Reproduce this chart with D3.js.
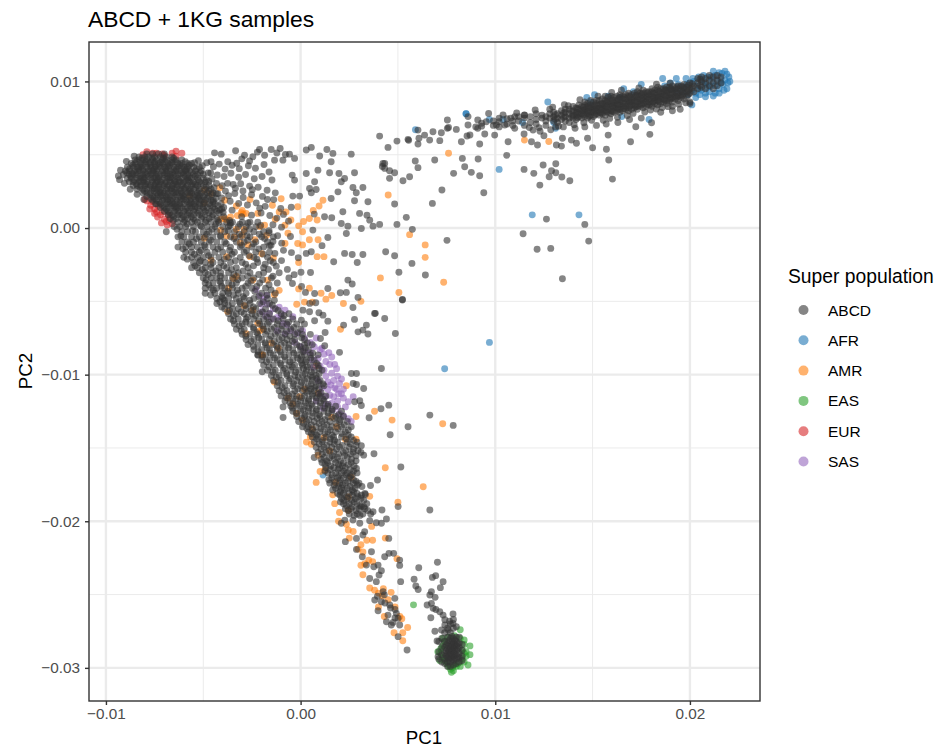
<!DOCTYPE html>
<html><head><meta charset="utf-8">
<script src="https://d3js.org/d3.v7.min.js"></script>
<style>html,body{margin:0;padding:0;background:#fff}text{font-family:"Liberation Sans",Arial,sans-serif}</style>
</head><body><svg id="c" width="935" height="749"></svg>
<script>
// All PC values below are in thousandths (PC value x 1000).
const unit = 0.001;
const categories = ["ABCD","AFR","AMR","EAS","EUR","SAS"];
const colours = ["#333333","#1f77b4","#ff7f0e","#2ca02c","#d62728","#9467bd"];
const xTicks = [-0.01,0,0.01,0.02];
const yTicks = [0.01,0,-0.01,-0.02,-0.03];
const xMinor = [-0.005,0.005,0.015];
const yMinor = [0.005,-0.005,-0.015,-0.025];

const afrPairs = [[18.6,10.2],[19.3,10.2],[19.8,10.2],[20.7,10.4],[21.2,10.7],[21.8,10.7],[22,10.3],[21.9,9.5],[21.2,9],[20.5,9.1],[20.1,8.4],[16.6,9.5],[17.5,9.8],[15.1,9.1],[12.7,8.6],[8.5,7.8],[8.5,7.8],[5.9,6.7],[9.7,7.4],[10.4,7.4],[11.4,7.2],[13,7.2],[13.1,6.8],[17.9,7.4],[16.5,7.6],[14.7,8.9],[10.2,4],[11.9,0.9],[14.3,0.9],[9.7,-7.8],[7.4,-9.6],[1.15,-16.85],
[19,9.9],[19.4,9.8],[19.7,9.6],[20,9.9],[20.2,10],[20.4,9.7],[20.6,10.1],[20.8,9.8],[20.9,10.3],[21.1,10.3],[21.3,10.4],[21.5,10.6],[21.6,10.2],[21.8,10.1],[21.9,10.5],[21.7,9.8],[21.5,9.5],[21.3,9.7],[21,9.3],[20.8,9.2],[20.6,9.4],[20.3,9.2],[20.1,9.4],[19.9,9.1],[19.6,9.3],[19.3,9.4],[21.6,9.9],[21.4,10],[21.1,10],[20.9,9.6],[20.5,9.5],[20.3,8.9],[20.8,8.95],[21.5,9.2],[19,9.5],[18.7,9.7],[14.9,8.6],[15.8,9],[16.4,8.9],[17.1,9.3],[20.45,10.3],[20.15,10.2],[19.85,9.8],[20.7,9.95],[21.05,9.65],[21.3,9.2],[21.75,9.4],[21.95,9.9],[22.05,10],[21.65,10.55]];

const easPairs = [[5.8,-25.7],[8.2,-27.4],[8.7,-28.5],[8.7,-29.1],[8.6,-29.8],[7.75,-30.3],[7.8,-30],[7.05,-28.9],[7.15,-29.5],[7.6,-29.9],[7.3,-28],[8.4,-28.1],[8.5,-28.9],[8.4,-29.6],[8,-29.9],[7.85,-30.2],
[7.4,-28.2],[7.6,-27.9],[7.9,-27.8],[8.2,-28],[8.4,-28.4],[8.5,-29.2],[8.3,-29.4],[8.1,-29.7],[7.5,-29.7],[7.3,-29.3],[7.2,-28.7],[7.3,-28.5],[7.2,-29],[7.7,-30.1],[8.3,-28.8],[8.4,-29],[7.9,-29.8],[8.2,-29.9],[7.4,-29.5]];

const eurPairs = [[-7.9,5.2],[-7.4,5.1],[-7.1,5.05],[-6.6,5.1],[-6.4,5.25],[-6.1,5.1],[-6.4,4.9],[-7.6,5.1],[-7,4.95],[-8.1,5],
[-7.9,1.85],[-7.7,1.55],[-7.4,1.1],[-7.15,0.35],[-6.85,0.2],[-7.35,0.75],[-7.5,1.3],[-7.2,0.9],[-7,0.6],[-6.9,0.45],[-7.1,1.1],[-6.75,0.55],[-7.75,1.3],[-7.5,1],[-6.6,0.3],[-6.8,0.9],[-7.6,1.8],[-7.3,1.5],[-8,1.95]];

const sasPairs = [[-2.3,-4.2],[-1.9,-4.9],[-1.6,-5.8],[-0.8,-5.6],[-0.4,-6.05],[0.1,-7],[0.8,-7.5],[1,-8.3],[1.6,-8.8],[1.85,-9.6],[2.1,-10.3],[2.7,-11.5],[2.45,-11.85],[2,-12.65],[2.6,-13.2],[1,-11.3],[1.5,-11.4],[0.65,-9.5],[0,-8.1],[-0.9,-6.5],
[-2.1,-4.6],[-2,-5.2],[-1.7,-5.2],[-1.4,-5.5],[-1.2,-6.1],[-1.5,-6.2],[-1,-6],[-0.7,-6.6],[-0.5,-7],[-0.2,-7.2],[0.2,-7.5],[0.5,-7.8],[0.7,-8.1],[0.5,-8.5],[0.9,-8.9],[1.2,-8.6],[1.3,-9.1],[1,-9.4],[1.5,-9.3],[1.2,-9.7],[1.6,-9.9],[1.3,-10.1],[1.9,-10.1],[1.7,-10.4],[1.4,-10.5],[2,-10.6],[1.75,-10.9],[1.4,-11],[2.2,-11],[1.95,-11.3],[1.7,-11.5],[1.25,-11.5],[2.2,-11.6],[1.9,-11.8],[1.6,-11.95],[2.3,-12.2],[1.9,-12.2],[1.3,-12],[0.9,-10.4],[0.6,-9],[0.2,-8.4],[-0.3,-7.8],[-0.8,-7.2],[-1.2,-7],[-1.8,-6],[-2,-5.7],[1.1,-10.9],[0.8,-11.8],[2.45,-13],[2.2,-12.8],[1.45,-8.5],[1.75,-9.3],[1.1,-8.2],[1.85,-11],[1.55,-10.7],[2.1,-11.3],[1.65,-12.4],[1.15,-12.3],[-1.1,-5.4],[-1.75,-4.6]];

const amrPairs = [[7.6,5.1],[11.5,6],[12.75,5.9],[4.5,2.25],[5.6,-0.45],[6.4,-1.15],[6.4,-2],[7.35,-3.7],[4.1,-3.4],[5.05,-4.4],
[3.1,-5],[2.2,-5.15],[2.05,-6.9],[1.3,-4.85],[1.6,-4.6],[1.05,-4.45],[0.2,-5.05],[-0.2,-5.2],[0.6,-5.05],[0.45,-4.1],[-0.1,-4.15],[1.2,-1.95],[0.85,-1.95],[-0.1,-2.35],[0.9,-0.8],[0.45,-0.8],[0.1,-1.15],[-0.15,-1.05],[0.85,0.55],[0.45,0.65],[0.15,0.45],[-0.1,0.15],[0.1,-0.25],[1.15,1.9],[0.95,1.5],[0.65,1.2],[-0.15,1.45],[-1,2],[-1.45,1.55],[-2.6,1.95],[-3,1.2],[-2.8,1],[-3.9,0.65],[-4.1,0.6],[-3.8,0.55],[-3.6,0.75],[-4.15,2.75],[-4.6,2.35],[-4.95,2.6],[-5.7,2.2],[-4.95,1.7],[-3.9,1.9],[-0.75,1.1],[-0.5,0.55],[-0.8,0.2],[-0.65,-0.35],[-1.85,0.2],[-2.1,0.1],[-2.9,-0.1],[-3.3,-0.1],[-4.1,-0.15],[-3.8,-0.55],[-3.4,-0.6],[-3,-0.5],[-2.35,-0.8],[-1.75,-0.5],[-0.8,-1.05],[-2.7,-1.15],[-2.6,-1.95],[-2,-1.75],[-3.3,-3.3],[-3.45,-3.45],[-2.45,-3.55],[-1.7,-3.55],[-1.1,-4.25],[-1.35,-4.55],[-1.4,-2.05],[-4.95,-0.7],[-3.8,-1.95],[-2.8,-7.2],[-1.95,-6.9],[-2.45,-5.6],[-3.75,-5.7],[-1.95,-8.65],
[-3.3,1.5],[-2.2,1],[-1.3,0.6],[-1.1,1.1],[-3.1,-1],[-4.6,-2.2],[-3.7,-4.1],[-2.9,-5.3],[-2.2,-6.5],[-3.05,1.05],[-2.95,0.95],[-3.25,0.85],
[2.35,-10.75],[3.8,-12.5],[4.7,-13.1],[7.3,-13.35],[2.85,-12.85],[2.85,-14.4],[2.3,-14.4],[0.5,-14.25],[0.3,-14.6],[0.55,-14.75],[1,-16.6],[1.25,-16.5],[0.8,-17.35],[2.6,-17],[1.8,-17.35],[4.35,-16.35],[6.3,-17.65],[1.65,-18.2],[1.75,-18.8],[2,-19.4],[3.55,-18.3],[2.45,-18.35],[2.45,-19.25],[5,-18.7],[-1.35,-10.5],[-0.65,-11.6],[-0.2,-12.65],[0.1,-13.1],[1.85,-13.55],[0.8,-9.4],[-0.05,-11.5],[0.9,-11.25],[-2,-8.65],[-1.5,-7.85],[-1.15,-8.2],[-2.1,-7],
[1.5,-15.2],[0.9,-15.5],[0.6,-13.7],[1.6,-12.9],[-0.4,-12],[0.2,-11],[1.2,-14.3],
[1.95,-20],[2.45,-20.6],[2.7,-20.7],[2.5,-21.15],[3.65,-20.35],[3.7,-21.3],[4.35,-21.15],[3.1,-21.6],[3.2,-22.1],[3.4,-21.3],[3.5,-22.65],[3.7,-22.75],[3.1,-23],[3.2,-23.65],[3.55,-24.55],[3.8,-24.7],[4,-24.9],[4.25,-24.6],[4.65,-24.85],[4.5,-25.35],[4,-25.85],[4.3,-26.5],[4.85,-25.85],[5.1,-26.5],[5.2,-26.65],[4.8,-27.6],[5.25,-27.6],[5.5,-27.25],[5.25,-28.15],[4.95,-22.55],[3.3,-22.9],[2.95,-21.9],[2.35,-20.2],[4.2,-25.1]];

// dense blob: each row is [PC2, then PC1 values]
const abcdBlobRows = [
[5.05,-7.9,-7.6,-7.3,-7.0],
[4.85,-8.3,-8.0,-7.8,-7.5,-7.2,-6.9,-6.6],
[4.65,-8.5,-8.3,-8.1,-7.9,-7.6,-7.4,-7.1,-6.9,-6.6,-6.4,-6.1],
[4.4,-8.7,-8.5,-8.2,-8.0,-7.8,-7.5,-7.3,-7.1,-6.8,-6.6,-6.3,-6.1,-5.8,-5.6],
[4.15,-8.9,-8.6,-8.4,-8.2,-7.9,-7.7,-7.5,-7.2,-7.0,-6.8,-6.5,-6.3,-6.0,-5.8,-5.5,-5.2],
[3.9,-9.0,-8.8,-8.5,-8.3,-8.1,-7.8,-7.6,-7.4,-7.1,-6.9,-6.7,-6.4,-6.2,-5.9,-5.7,-5.4,-5.1],
[3.65,-9.1,-8.8,-8.6,-8.4,-8.1,-7.9,-7.7,-7.4,-7.2,-7.0,-6.7,-6.5,-6.3,-6.0,-5.8,-5.5,-5.3,-5.0],
[3.4,-8.9,-8.7,-8.4,-8.2,-8.0,-7.7,-7.5,-7.3,-7.0,-6.8,-6.6,-6.3,-6.1,-5.8,-5.6,-5.3,-5.0],
[3.15,-8.8,-8.6,-8.3,-8.1,-7.9,-7.6,-7.4,-7.2,-6.9,-6.7,-6.4,-6.2,-6.0,-5.7,-5.5,-5.2,-4.9],
[2.9,-8.6,-8.4,-8.2,-8.0,-7.7,-7.5,-7.3,-7.0,-6.8,-6.6,-6.3,-6.1,-5.8,-5.6,-5.3,-5.0,-4.7],
[2.65,-8.4,-8.1,-7.9,-7.6,-7.4,-7.2,-6.9,-6.7,-6.5,-6.2,-6.0,-5.7,-5.5,-5.2,-4.9,-4.6],
[2.4,-8.1,-7.9,-7.7,-7.4,-7.2,-7.0,-6.8,-6.5,-6.3,-6.1,-5.8,-5.6,-5.3,-5.1,-4.8,-4.5],
[2.15,-7.9,-7.6,-7.4,-7.2,-6.9,-6.7,-6.5,-6.2,-6.0,-5.7,-5.5,-5.2,-5.0,-4.7],
[1.9,-7.6,-7.4,-7.1,-6.9,-6.7,-6.4,-6.2,-5.9,-5.7,-5.4,-5.1,-4.9,-4.6],
[1.65,-7.4,-7.2,-6.9,-6.7,-6.5,-6.2,-6.0,-5.7,-5.5,-5.2,-5.0,-4.7,-4.4],
[1.4,-7.2,-7.0,-6.8,-6.5,-6.3,-6.1,-5.8,-5.6,-5.3,-5.0,-4.8,-4.5],
[1.15,-7.0,-6.8,-6.5,-6.3,-6.0,-5.8,-5.5,-5.2,-4.9,-4.6,-4.3],
[0.9,-6.8,-6.6,-6.3,-6.1,-5.8,-5.5,-5.2,-4.9,-4.5],
[0.65,-6.7,-6.4,-6.1,-5.8,-5.5,-5.1,-4.7,-4.3],
// second pass through the same blob
[4.77,-8.15,-7.62,-7.05,-6.52],
[4.53,-8.42,-7.95,-7.48,-6.95,-6.42,-5.92],
[4.28,-8.62,-8.12,-7.68,-7.22,-6.72,-6.21,-5.72],
[4.03,-8.78,-8.33,-7.82,-7.35,-6.92,-6.38,-5.85,-5.35],
[3.78,-8.93,-8.45,-7.97,-7.55,-7.05,-6.58,-6.05,-5.62,-5.15],
[3.53,-8.72,-8.25,-7.83,-7.31,-6.85,-6.42,-5.93,-5.42],
[3.28,-8.55,-8.05,-7.62,-7.12,-6.72,-6.25,-5.78,-5.25,-4.85],
[3.03,-8.45,-7.95,-7.45,-6.98,-6.52,-6.05,-5.55,-5.1],
[2.78,-8.25,-7.75,-7.28,-6.85,-6.35,-5.88,-5.38,-4.85],
[2.53,-8.02,-7.53,-7.08,-6.62,-6.15,-5.65,-5.2,-4.72],
[2.28,-7.75,-7.32,-6.83,-6.38,-5.92,-5.42,-4.92,-4.55],
[2.03,-7.52,-7.05,-6.58,-6.12,-5.62,-5.25,-4.78,-4.35],
[1.78,-7.25,-6.82,-6.35,-5.85,-5.38,-4.95,-4.5],
[1.53,-7.1,-6.62,-6.18,-5.68,-5.18,-4.65,-4.25],
[1.28,-6.9,-6.42,-5.92,-5.45,-4.98,-4.42,-4.05],
[1.03,-6.72,-6.22,-5.72,-5.28,-4.72,-4.18],
[0.78,-6.52,-6.02,-5.62,-5.05,-4.55,-3.95],
[0.52,-6.55,-5.95,-5.42,-4.85,-4.25,-3.65],
// third pass, filling the middle of the blob
[4.48,-7.72,-7.18,-6.62],[4.22,-8.28,-7.45,-6.85,-6.12],[3.98,-8.12,-7.52,-6.52,-5.95],[3.72,-8.65,-7.62,-6.85,-6.15],[3.47,-8.08,-7.42,-6.68,-5.72],[3.22,-8.25,-7.32,-6.48,-5.88],[2.97,-7.85,-7.15,-6.42,-5.42],[2.72,-7.52,-6.62,-5.95],[2.47,-7.22,-6.42,-5.72],[2.22,-7.12,-6.05,-5.32],[1.97,-6.82,-6.02,-5.22],[1.72,-6.58,-5.62],[1.47,-6.42,-5.42]];

// long arm from the blob down to the tail: [PC2, then PC1 values]
const abcdArmRows = [
[0.4,-6.3,-6.0,-5.6,-5.3,-4.9,-4.6,-4.2,-3.8,-3.5,-3.0,-2.6,-2.2],
[0.1,-6.5,-6.2,-5.9,-5.5,-5.1,-4.8,-4.4,-4.0,-3.7,-3.2,-2.8,-2.3],
[-0.25,-6.9,-6.1,-5.8,-5.4,-5.0,-4.7,-4.3,-3.9,-3.4,-2.9,-2.4,-1.9],
[-0.6,-6.3,-6.0,-5.6,-5.2,-4.9,-4.5,-4.1,-3.6,-3.1,-2.6,-2.0,-1.4],
[-0.95,-6.1,-5.8,-5.5,-5.1,-4.7,-4.3,-3.9,-3.3,-2.9,-2.3,-1.7],
[-1.3,-6.3,-5.9,-5.6,-5.3,-4.9,-4.5,-4.1,-3.6,-3.1,-2.5,-1.9],
[-1.65,-5.9,-5.6,-5.2,-4.8,-4.4,-4.0,-3.4,-2.9,-2.3,-1.6],
[-2.0,-6.0,-5.6,-5.3,-5.0,-4.6,-4.2,-3.7,-3.1,-2.4,-1.7],
[-2.35,-5.5,-5.2,-4.9,-4.5,-4.1,-3.6,-3.0,-2.2,-1.4],
[-2.7,-5.6,-5.3,-4.9,-4.6,-4.2,-3.8,-3.3,-2.7,-1.9],
[-3.05,-5.2,-4.9,-4.5,-4.1,-3.7,-3.2,-2.6,-1.9,-1.1],
[-3.4,-5.0,-4.6,-4.3,-3.9,-3.5,-3.0,-2.4,-1.5,-0.6],
[-3.75,-4.9,-4.5,-4.1,-3.7,-3.3,-2.7,-2.1,-1.2],
[-4.1,-4.9,-4.6,-4.3,-3.9,-3.5,-3.0,-2.5,-1.8],
[-4.45,-4.9,-4.4,-4.0,-3.7,-3.2,-2.8,-2.0,-1.3],
[-4.8,-4.3,-4.0,-3.7,-3.3,-2.9,-2.4,-1.7],
[-5.15,-4.3,-3.9,-3.5,-3.1,-2.6,-2.1,-1.6],
[-5.5,-3.9,-3.5,-3.2,-2.8,-2.3,-1.8,-1.3],
[-5.85,-3.7,-3.3,-2.9,-2.5,-2.1,-1.6,-1.0,-0.6],
[-6.2,-3.6,-3.2,-2.8,-2.4,-1.9,-1.4,-0.9,-0.4],
[-6.55,-3.4,-3.0,-2.6,-2.1,-1.7,-1.2,-0.7,-0.2,0.2],
[-6.9,-3.3,-2.9,-2.4,-1.9,-1.5,-1.0,-0.5,0.0],
[-7.25,-3.0,-2.6,-2.2,-1.8,-1.3,-0.8,-0.3,0.1,0.5],
[-7.6,-2.8,-2.4,-2.0,-1.6,-1.1,-0.7,-0.3,0.2],
[-7.95,-2.7,-2.2,-1.8,-1.4,-1.0,-0.6,-0.2,0.2,0.6],
[-8.3,-2.4,-2.0,-1.6,-1.2,-0.8,-0.4,0.0,0.4],
[-8.65,-2.2,-1.8,-1.4,-1.0,-0.6,-0.2,0.2,0.5,0.9],
[-9.0,-2.0,-1.6,-1.2,-0.8,-0.4,0.0,0.3,0.7],
[-9.35,-1.9,-1.4,-1.0,-0.6,-0.3,0.1,0.5,0.9],
[-9.7,-1.7,-1.3,-0.9,-0.5,-0.1,0.3,0.7,1.1],
[-10.05,-1.5,-1.1,-0.7,-0.3,0.1,0.5,0.8],
[-10.4,-1.4,-1.0,-0.6,-0.2,0.2,0.6,1.0],
[-10.75,-1.2,-0.8,-0.4,0.0,0.4,0.8,1.2],
[-11.1,-1.1,-0.7,-0.3,0.1,0.4,0.7],
[-11.45,-1.0,-0.6,-0.2,0.2,0.6,1.0,1.3],
[-11.8,-0.8,-0.4,0.0,0.4,0.8,1.2],
[-12.15,-0.5,-0.2,0.2,0.6,1.0,1.4,1.8],
[-12.5,-0.4,0.0,0.4,0.8,1.2,1.6,2.1],
[-12.85,-0.2,0.2,0.6,1.0,1.4,1.8,2.2],
[-13.2,-0.1,0.3,0.7,1.1,1.5,2.0,2.4],
[-13.55,0.1,0.4,0.8,1.2,1.6,2.1,2.6],
[-13.9,0.4,0.7,1.0,1.4,1.8,2.3],
[-14.25,0.6,0.9,1.3,1.7,2.1,2.6],
[-14.6,0.7,1.1,1.5,1.9,2.4,2.9],
[-14.95,0.8,1.2,1.6,2.0,2.5],
[-15.3,0.9,1.3,1.7,2.2,2.7,3.1],
[-15.65,0.7,1.2,1.5,1.9,2.4],
[-16.0,1.1,1.4,1.8,2.2,2.6],
[-16.35,1.3,1.7,2.0,2.3],
[-16.7,1.4,1.8,2.1,2.4,2.9],
[-17.05,1.6,1.9,2.2,2.5],
[-17.4,1.5,2.0,2.3,2.7,3.0],
[-17.75,1.8,2.1,2.4,2.8],
[-18.1,1.9,2.2,2.5,2.9,3.3],
[-18.45,2.1,2.4,2.8,3.1],
[-18.8,2.2,2.5,2.9,3.4],
[-19.15,2.3,2.6,3.0,3.3],
[-19.5,2.5,2.9,3.2,3.6],
// second pass, less regular
[0.27,-5.82,-4.35,-3.12],[0.17,-5.15,-3.62,-2.05],[-0.08,-6.35,-4.55,-2.62],[-0.18,-5.55,-3.72,-1.62],[-0.42,-4.82,-3.15,-2.12],[-0.52,-6.15,-4.12,-2.75],[-0.72,-5.35,-3.42,-1.85],[-0.83,-4.62,-2.72],[-1.07,-5.72,-3.82,-2.42],[-1.18,-4.95,-3.02,-1.52],[-1.42,-6.05,-4.25,-2.15],[-1.53,-5.12,-3.65,-2.78],
[-1.78,-5.45,-3.52,-1.92],[-1.88,-4.72,-2.65],[-2.12,-5.82,-3.92,-2.25],[-2.23,-5.15,-3.35,-1.55],[-2.47,-4.62,-2.82,-1.82],[-2.58,-5.42,-3.95,-2.42],[-2.82,-5.05,-3.55,-1.65],[-2.93,-4.35,-2.95],[-3.17,-4.75,-3.42,-2.15],[-3.28,-4.12,-2.72,-1.42],[-3.52,-4.85,-3.22,-1.95],[-3.63,-4.15,-2.55],
[-3.87,-4.72,-3.52,-1.62],[-3.98,-4.05,-2.82,-2.25],[-4.22,-4.48,-3.25,-1.52],[-4.33,-3.75,-2.35],[-4.57,-4.62,-3.45,-1.72],[-4.68,-4.05,-2.95,-2.15],[-4.92,-3.92,-2.62,-1.35],[-5.03,-4.15,-3.15,-1.92],[-5.27,-3.72,-2.85,-1.45],[-5.38,-4.05,-2.42],[-5.62,-3.65,-2.55,-1.15],[-5.73,-3.05,-1.95],
[-5.97,-3.45,-2.32,-0.85],[-6.08,-2.72,-1.72],[-6.32,-3.45,-2.15,-1.15],[-6.43,-2.82,-1.62,-0.62],[-6.67,-3.15,-1.95,-0.95],[-6.78,-2.42,-1.35,-0.35],[-7.02,-3.05,-1.72,-0.72],[-7.13,-2.25,-1.15,-0.15],[-7.37,-2.82,-1.52,-0.55],[-7.48,-2.15,-0.95,0.05],[-7.72,-2.55,-1.35,-0.42],[-7.83,-1.82,-0.82,0.35],
[-8.07,-2.42,-1.22,-0.05],[-8.18,-1.72,-0.62,0.25],[-8.42,-2.18,-1.05,0.12],[-8.53,-1.55,-0.35,0.62],[-8.77,-1.95,-0.82,0.05],[-8.88,-1.32,-0.15,0.52],[-9.12,-1.75,-0.55,0.25],[-9.23,-1.05,0.05,0.82],[-9.47,-1.62,-0.42,0.35],[-9.58,-0.82,0.15,0.95],[-9.82,-1.42,-0.25,0.55],[-9.93,-0.72,0.22,0.95],
[-10.17,-1.25,-0.12,0.62],[-10.28,-0.52,0.35,0.82],[-10.52,-1.15,0.05,0.92],[-10.63,-0.35,0.55,1.15],[-10.87,-0.95,0.22,0.72],[-10.98,-0.15,0.52,0.95],[-11.22,-0.85,0.32,1.05],[-11.33,-0.42,0.62,0.92],[-11.57,-0.72,0.05,0.82],[-11.68,-0.25,0.42,1.15],[-11.92,-0.55,0.25,1.02],[-12.03,-0.12,0.55,1.42],
[-12.27,-0.42,0.42,1.25],[-12.38,0.12,0.82,1.62],[-12.62,-0.22,0.62,1.42],[-12.73,0.25,0.95,1.95],[-12.97,0.05,0.85,1.72],[-13.08,0.42,1.25,2.05],[-13.32,0.15,0.95,1.82],[-13.43,0.55,1.35,2.25],[-13.67,0.32,1.05,1.92],[-13.78,0.62,1.52,2.45],[-14.02,0.55,1.25,2.12],[-14.13,0.82,1.62,2.45],
[-14.37,0.82,1.52,2.35],[-14.48,1.15,1.75,2.72],[-14.72,0.95,1.72,2.55],[-14.83,1.35,2.15,2.85],[-15.07,1.05,1.85,2.72],[-15.18,1.45,2.32,2.95],[-15.42,1.12,1.95,2.55],[-15.53,1.62,2.25,2.85],[-15.77,1.05,1.72,2.62],[-15.88,1.35,2.05,2.85],[-16.12,1.25,1.95,2.45],[-16.23,1.55,2.15,2.75],
[-16.47,1.52,1.92,2.55],[-16.58,1.25,2.22,2.72],[-16.82,1.62,2.32,2.65],[-16.93,1.95,2.55],[-17.17,1.45,2.05,2.72],[-17.28,1.75,2.42,2.85],[-17.52,1.72,2.15,2.92],[-17.63,1.95,2.55,3.15],[-17.87,1.65,2.25,2.65],[-17.98,2.05,2.72],[-18.22,2.02,2.65,3.12],[-18.33,2.35,2.95],[-18.57,2.22,2.62,3.25],[-18.68,2.05,2.75],[-18.92,2.35,3.05],[-19.03,2.65,3.25],[-19.27,2.45,2.85,3.45],[-19.6,2.75,3.05]];

// dense stretch of the African arm: each column is [PC1, then PC2 values]
const abcdAfrCols = [
[9.3,6.95,7.15],[9.9,7,7.3],[10.2,6.9,7.25,7.5],[10.6,7.1,7.45],[10.9,7.0,7.3],[11.2,7.3,7.6],[11.5,7.0,7.5,7.7],[11.8,7.2,7.6],[12.1,7.1,7.4,7.8],[12.4,7.5,7.7],[12.6,7.0,7.3,7.6],[12.8,7.5,7.8,8.1],
[13,7.3,7.6,7.9],[13.2,7.2,7.5,7.8],[13.4,7.4,7.7,8.0],[13.6,7.3,7.6,7.9,8.1],[13.8,7.2,7.5,7.8,8.1],[14,7.5,7.7,8.0,8.3],[14.15,7.4,7.7,7.9,8.2],[14.3,7.6,7.8,8.1,8.4],[14.45,7.5,7.8,8.0,8.3],[14.6,7.6,7.9,8.1,8.4,8.6],[14.75,7.5,7.8,8.0,8.3,8.5],[14.9,7.7,7.9,8.2,8.4,8.7],
[15.05,7.6,7.9,8.1,8.3,8.6],[15.2,7.8,8.0,8.2,8.5,8.7],[15.35,7.7,7.9,8.2,8.4,8.7],[15.5,7.8,8.1,8.3,8.5,8.8],[15.65,7.7,8.0,8.2,8.5,8.7,9.0],[15.8,7.9,8.1,8.4,8.6,8.9],[15.95,7.8,8.0,8.3,8.5,8.8,9.0],[16.1,7.9,8.2,8.4,8.6,8.9],[16.25,8.0,8.2,8.5,8.7,9.0],[16.4,7.9,8.1,8.4,8.6,8.9,9.1],[16.55,8.0,8.3,8.5,8.8,9.0],[16.7,8.1,8.3,8.6,8.8,9.1],[16.85,8.0,8.2,8.5,8.7,9.0,9.2],[17,8.1,8.4,8.6,8.8,9.1],
[17.15,8.2,8.4,8.7,8.9,9.2],[17.3,8.1,8.3,8.6,8.8,9.1,9.3],[17.45,8.3,8.5,8.7,9.0,9.2],[17.6,8.2,8.5,8.7,8.9,9.2,9.4],[17.75,8.3,8.6,8.8,9.0,9.3],[17.9,8.4,8.6,8.8,9.1,9.3],[18.05,8.3,8.5,8.8,9.0,9.3,9.5],[18.2,8.5,8.7,8.9,9.2,9.4],[18.35,8.4,8.7,8.9,9.1,9.4,9.6],[18.5,8.5,8.8,9.0,9.2,9.5],[18.65,8.6,8.8,9.1,9.3,9.5],[18.8,8.5,8.7,9.0,9.2,9.4,9.6],[18.95,8.7,8.9,9.1,9.4,9.6],[19.1,8.6,8.9,9.2,9.4,9.7],[19.25,8.8,9.0,9.3,9.5],[19.4,8.7,9.0,9.2,9.5,9.7],[19.55,8.9,9.1,9.4,9.7],[19.7,8.8,9.2,9.5,9.8],[19.85,9.0,9.3,9.6],[20,8.6,9.2,9.5,9.9],[20.2,9.3,9.7],[20.4,9.5,9.9,10.2],[20.6,9.6,10.0,10.3],[20.8,9.5,9.9,10.2],[21,9.7,10.1,10.4],[21.2,9.5,9.9,10.3],[21.4,9.7,10.1,10.4],[21.6,9.9,10.3],
// second pass
[13.08,7.42,7.73],[13.52,7.55,7.85],[13.93,7.62,7.95],[14.22,7.52,7.88,8.15],[14.53,7.72,8.02,8.25],[14.82,7.62,7.95,8.22],[15.12,7.72,8.05,8.38],[15.43,7.85,8.12,8.45],[15.72,7.92,8.28,8.62],[16.03,7.95,8.32,8.72],[16.32,8.12,8.42,8.78],[16.62,8.15,8.52,8.92],[16.92,8.32,8.62,8.95],[17.22,8.28,8.65,9.02],[17.52,8.42,8.78,9.12],[17.82,8.45,8.92,9.22],[18.12,8.62,8.92,9.2],[18.42,8.62,8.95,9.32],[18.72,8.72,9.05,9.42],[19.02,8.82,9.15,9.48],[19.32,8.92,9.22,9.62],[19.62,9.02,9.32,9.62],[19.92,9.12,9.42,9.75],[20.12,9.55,9.85],[20.52,9.72,10.15],
// fringe of the band
[13.25,6.95],[13.75,8.35],[14.05,7.05],[14.35,8.75],[14.55,7.18],[14.95,7.35],[15.28,9.0],[15.55,7.35],[15.88,7.48],[15.98,9.25],[16.28,7.55],[16.48,9.4],[16.78,7.68],[17.08,7.82],[17.38,9.55],[17.68,7.92],[17.98,8.05],[18.28,8.12],[18.28,9.82],[18.58,8.22],[18.88,8.28],[18.98,9.88],[19.42,8.45],[19.78,8.55],[13.55,8.42],[12.95,8.25],[12.25,6.85],[12.85,6.7],[11.75,6.85],[11.1,7.85],[12.05,8.05]];

const abcdEasCols = [
[6.9,-27.5],[7.1,-28.2,-28.9,-29.4],[7.25,-28.0,-28.6,-29.1,-29.6],[7.4,-27.6,-28.2,-28.6,-29.0,-29.4,-29.7],[7.55,-27.3,-27.9,-28.3,-28.7,-29.0,-29.3,-29.6,-29.9],[7.7,-27.0,-27.6,-28.0,-28.4,-28.7,-29.0,-29.3,-29.6,-29.9],[7.85,-26.7,-27.3,-28.0,-28.3,-28.6,-28.9,-29.2,-29.5,-29.8],[8.0,-27.2,-27.9,-28.2,-28.5,-28.8,-29.1,-29.4,-29.7],[8.15,-27.9,-28.3,-28.6,-29.0,-29.3,-29.6],[8.3,-28.4,-28.8,-29.2,-29.5],
[7.48,-28.42,-28.85,-29.2],[7.62,-28.15,-28.55,-28.85,-29.15,-29.45],[7.78,-27.85,-28.22,-28.52,-28.82,-29.12,-29.42],[7.92,-28.12,-28.42,-28.72,-29.02,-29.32],[8.08,-28.35,-28.72,-29.22]];

const abcdPairs = [
// edge of the blob
[-9.36,3.55],[-9.25,3.95],[-8.95,4.55],[-8.55,4.9],[-9.3,3.3],[-9.05,3.05],[-8.75,2.65],[-8.4,2.3],[-8.05,1.95],[-7.7,2],[-7.45,1.65],[-5.25,4.6],[-5.05,4.25],[-4.75,3.75],[-4.55,3.35],[-5.45,4.45],[-4.45,2.75],[-4.25,2.35],[-4.05,2.05],[-3.95,1.4],
// sparse cloud above the arm
[-4.42,5.13],[-4.08,5.04],[-4.6,4.52],[-3.74,4.52],[-3.34,5.27],[-2.88,4.97],[-2.45,4.86],[-2.11,5.36],[-1.51,5.36],[-1.05,5.43],[-0.91,4.63],[-0.57,5.04],[-0.31,4.75],[-1.34,4.63],[-1.85,4.97],[-2.22,5.18],[-1.22,5.12],[-0.78,5.02],[-2.62,4.58],[-3.02,4.72],[-3.28,4.42],[0.29,5.32],[0.55,5.5],[0.98,4.91],[1.35,5.36],[1.66,5.09],[1.57,4.52],[2.6,5.04],[4.06,6.27],[4.49,5.5],[4.32,4.41],[4.2,4.2],
[-4.82,4.45],[-4.48,4.18],[-4.18,4.36],[-3.88,4.02],[-3.52,4.28],[-3.15,4.05],[-2.68,4.25],[-2.32,4.08],[-1.88,4.33],[-1.62,3.82],[-4.62,3.75],[-4.28,3.62],[-3.93,3.52],[-3.58,3.74],[-3.18,3.46],[-2.83,3.65],[-2.38,3.36],[-1.98,3.52],[-1.47,3.28],[-4.72,3.18],[-4.32,3.05],[-4.03,2.88],[-3.46,2.97],[-3.08,3.02],[-2.62,2.86],[-2.18,2.78],[-1.72,2.58],[-4.33,2.34],[-3.86,2.52],[-3.38,2.36],[-2.96,2.53],[-2.52,2.27],[-1.96,2.16],[-4.48,1.88],[-4.08,1.66],[-3.62,1.83],[-3.18,1.68],[-2.73,1.57],[-2.28,1.72],[-1.82,1.48],[-1.38,1.94],[-1.02,1.33],[-3.98,1.07],[-3.52,1.22],[-3.03,0.78],[-2.52,0.88],[-2.03,1.03],[-1.58,0.86],[-1.22,0.68],[-0.88,0.93],[-0.48,1.42],[-1.42,0.22],[-0.98,0.06],[-0.62,0.47],[-1.62,-0.32],[-1.18,-0.53],[-1.42,-0.92],[-0.97,-1.03],[-0.52,-0.58],[-0.88,-1.52],[-1.32,-1.73],[-0.98,-2.22],[-0.47,-1.68],[-0.12,-2.03],[-0.68,-2.82],[-0.33,-3.18],[0.02,-3.02],[-0.42,-3.78],[0.05,-3.98],[-3.75,3.05],[-3.35,2.72],[-2.95,2.08],[-2.48,2.62],[-2.1,1.35],[-1.7,1.95],[-1.3,2.4],[-3.7,2.2],[-4.15,1.25],[-3.6,0.35],[-2.7,0.35],[-1.6,-1.2],[-1.25,-2.6],
[-0.43,3.61],[0.29,3.72],[-0.31,3.27],[0.89,3.95],[1.49,3.77],[1.97,3.72],[2.77,3.77],[2.26,3.38],[2.09,3.16],[0.72,3.16],[0.46,2.7],[0.8,2.63],[1.92,2.47],[2.69,2.77],[3.2,2.77],[2.86,2.41],[-0.4,2.18],[-0.05,2.18],[0.55,2.41],[1.57,2.02],[2.77,1.86],[3.46,1.79],[2.17,1.11],[3.03,1],[3.41,0.88],[3.55,0.54],[3.72,0.13],[4.06,0.25],[3.12,-0.03],[2.35,-0.37],[2.43,0.13],[2.09,0.31],[1.23,0.77],[0.63,-0.14],[1.4,-0.64],[4.37,-1.62],[3.2,-1.8],[2.65,-1.8],[2.26,-1.73],[2.91,-2.35],[2.43,-3.55],[2.65,-3.82],[2.35,-4.39],[1.4,-4.12],[2.95,-4.73],[2.69,-5.42],[3.8,-5.83],[4.32,-6.17],[2.77,-6.23],[3.38,-6.62],[3.2,-6.96],[2.95,-7.08],[3.46,-7.23],[2.21,-6.62],[1.4,-6.35],[0.94,-5.78],[0.12,-5.6],[1.15,-5.94],[0.46,-5.71],[0.51,-3.03],[0.29,-1.73],[0.55,-1.62],[4.15,-9.58],[0.7,0.95],[1.6,0.7],[1.1,-1.2],[1.7,-2.3],
[5.23,-4.91],[3.84,-5.82],[2.04,-4.41],[0.25,-4.39],[0.72,-4.46],[0.78,-5.1],[0.47,-5.14],[0.72,-6.32],[0.04,-6.28],[1.26,-7.12],[1.02,-7.53],[1.24,-8.03],[4.87,-7.19],[2,-8.48],[2.61,-9.92],[2.87,-9.92],[2.7,-10.6],[2.87,-10.67],[3.24,-10.94],[3.04,-11.78],[2.78,-11.85],[3.12,-12.1],[4.53,-12.08],[4.13,-12.33],[3.52,-12.94],[6.64,-12.76],[7.84,-13.46],[5.52,-13.55],[4.6,-14.1],[3.12,-14.85],[3.24,-15.49],[3.77,-15.4],[5.15,-16.3],[2.87,-16.4],[3.95,-17.19],[3.59,-17.56],[3.33,-18.17],[3.12,-19],[-0.9,-12.2],[-0.9,-12.92],[-1.97,-9.8],[-2.19,-8.67],
// tail to the East Asian blob
[5.01,-19],[6.64,-19.23],[4.18,-19.23],[3.72,-19.35],[4.41,-19.85],[4.15,-20.14],[3.89,-20.1],[3.55,-19.96],[3.04,-20.14],[3.29,-20.71],[2.69,-19.92],[2.27,-19.92],[2.09,-20.14],[2.3,-21.39],[2.87,-21.17],[3.2,-20.94],[2.87,-21.92],[3.64,-22.08],[4.53,-21.17],[4.32,-22.42],[4.54,-22.19],[4.78,-22.19],[5.09,-22.65],[5.09,-23.01],[3.17,-22.42],[3.38,-22.99],[3.98,-22.99],[3.76,-23.1],[4.15,-23.37],[6.07,-23.17],[7.03,-22.8],[6.94,-23.71],[6.77,-23.83],[5.14,-24.12],[5.83,-23.96],[7.32,-24.12],[7.18,-24.53],[5.92,-24.42],[6.04,-24.65],[6.72,-24.8],[6.64,-25.03],[6.91,-25.19],[6.72,-25.6],[6.5,-25.71],[6.81,-25.94],[6.95,-26.02],[7.15,-26.17],[7.32,-26.4],[7.83,-26.33],[6.69,-26.58],[7.41,-26.72],[7.65,-26.82],[7.83,-26.97],[7.41,-27.08],[7.24,-27.42],[7.58,-27.42],[7.01,-28.17],[7.06,-29.24],[5.47,-28.78],[5.01,-27.87],[5.09,-27.08],[4.66,-27.08],[4.41,-26.85],[4.84,-25.26],[4.58,-25.71],[4.33,-25.58],[4.15,-25.49],[3.81,-25.37],[3.98,-26.1],[4.49,-26.4],[4.92,-26.28],[5.01,-26.62],[4.85,-26.6],[4.75,-26.9],[4.24,-24.8],[4.3,-25.02],[3.89,-24.12],[3.55,-23.9],[4.03,-23.67],[3.95,-25.12],[4.62,-25.92],[4.85,-26.02],
// African arm, thinner part
[4.95,5.93],[5.52,6.05],[5.55,5.98],[6.03,6.68],[6.08,6.12],[6.03,5.73],[6.37,6.34],[6.8,6.57],[6.63,6],[7.15,5.96],[7.23,6.5],[7.54,7.37],[7.54,6.8],[7.6,6.86],[8,6.73],[8.26,5.89],[8.6,7.6],[8.6,7.03],[8.55,6.28],[8.7,6.35],[9.1,7.37],[9.1,6.8],[9,6.9],[9.2,5.73],[9.46,6.41],[9.66,7.82],[9.54,7.25],[9.97,6.34],[10.06,7.03],[10.4,7.71],[10.49,7.03],[10.66,5.89],[11,6.8],[11,7.6],[10.8,7.5],[11.5,7.71],[11.48,6.41],[11.86,5.89],[11.94,6.68],[12.17,5.66],[12.3,6.6],[12.5,6.3],[13.14,5.66],[13.45,6.12],[13.4,5.59],[13.91,6],[14.17,5.78],[14.74,6.12],[15,5.48],[15.71,5.37],[15.8,6.34],[15.83,4.64],[16.02,3.34],[16.95,5.89],[17.22,6.91],[17.94,6.39],[18.03,7.18],[13.1,6.9],[13.5,6.9],[14.1,6.8],[14.6,6.9],[15.2,7],[15.7,7.1],[16.3,7.2],[16.9,7.4],[17.5,7.5],[18.5,7.9],[19.1,8],[19.5,8.1],[20,8.5],[19.1,8.3],
[4.23,4.41],[4.32,4.07],[4.57,3.91],[4.83,3.77],[4.57,3.39],[5.26,3.23],[5.6,3.5],[5.89,4.57],[6.03,4.12],[6.89,4.64],[7.26,2.59],[6.77,1.68],[7.86,3.73],[8.31,4.75],[8.43,4.18],[8.77,3.8],[9.12,4.71],[9.2,3.57],[9.41,2.41],[10.59,4.96],[11.48,4],[11.98,3.73],[12.46,4.3],[13.11,4.39],[12.89,3.91],[13.11,3.77],[12.77,3.5],[13.42,3.48],[13.83,3.23],[12.29,2.93],[12.63,0.61],[14.6,0.25],[11.43,-0.39],[14.8,-0.89],[12.15,-1.45],[12.85,-1.39],[13.45,-3.46],[4.83,1.64],[5.43,0.73],[4.95,0.25],[5.74,-0.09],[7.52,-0.84],[4.83,-1.89],[5.72,-2.41],[5.05,-3.02],[6.41,-3.2],[5.23,-4.87]];

const xS = d3.scaleLinear().domain([-0.01087,0.0236]).range([89,760]);
const yS = d3.scaleLinear().domain([0.01269,-0.03226]).range([42,701]);
const svg = d3.select("#c");

const fromRows = rows => rows.flatMap(r => r.slice(1).map(x => [x, r[0]]));
const fromCols = cols => cols.flatMap(c => c.slice(1).map(y => [c[0], y]));
const abcd = abcdPairs.concat(fromRows(abcdBlobRows), fromRows(abcdArmRows), fromCols(abcdAfrCols), fromCols(abcdEasCols));
// drawn in this order: reference points first, ABCD on top
const layers = [["AFR",afrPairs],["AMR",amrPairs],["EAS",easPairs],["EUR",eurPairs],["SAS",sasPairs],["ABCD",abcd]];
const colour = d3.scaleOrdinal(categories, colours);

// grid
const grid = svg.append("g");
grid.selectAll(".xm").data(xMinor).join("line").attr("class","xm").attr("x1",d=>xS(d)).attr("x2",d=>xS(d)).attr("y1",42).attr("y2",701).attr("stroke","#ebebeb").attr("stroke-width",1);
grid.selectAll(".ym").data(yMinor).join("line").attr("class","ym").attr("y1",d=>yS(d)).attr("y2",d=>yS(d)).attr("x1",89).attr("x2",760).attr("stroke","#ebebeb").attr("stroke-width",1);
grid.selectAll(".xM").data(xTicks).join("line").attr("class","xM").attr("x1",d=>xS(d)).attr("x2",d=>xS(d)).attr("y1",42).attr("y2",701).attr("stroke","#ebebeb").attr("stroke-width",2.4);
grid.selectAll(".yM").data(yTicks).join("line").attr("class","yM").attr("y1",d=>yS(d)).attr("y2",d=>yS(d)).attr("x1",89).attr("x2",760).attr("stroke","#ebebeb").attr("stroke-width",2.4);

// points
layers.forEach(([name,pts])=>{
  svg.append("g").selectAll("circle").data(pts).join("circle")
    .attr("cx",d=>xS(d[0]*unit)).attr("cy",d=>yS(d[1]*unit)).attr("r",3.45)
    .attr("fill",colour(name)).attr("fill-opacity",0.6);
});

// panel border and axes
svg.append("rect").attr("x",89).attr("y",42).attr("width",671).attr("height",659).attr("fill","none").attr("stroke","#333").attr("stroke-width",1.4);
const fmt = d3.format(".2f");
const ax = svg.append("g").attr("transform","translate(0,701)").call(d3.axisBottom(xS).tickValues(xTicks).tickFormat(fmt).tickSize(4).tickPadding(3));
const ay = svg.append("g").attr("transform","translate(89,0)").call(d3.axisLeft(yS).tickValues(yTicks).tickFormat(fmt).tickSize(4).tickPadding(5));
[ax,ay].forEach(a=>{a.select(".domain").remove();a.selectAll("line").attr("stroke","#333").attr("stroke-width",1.4);
  a.selectAll("text").attr("fill","#4d4d4d").style("font-size","15.3px").style("font-family",'"Liberation Sans",Arial,sans-serif');});

// titles
svg.append("text").attr("x",88).attr("y",27).attr("font-size",22.8).attr("fill","#000").text("ABCD + 1KG samples");
svg.append("text").attr("x",424).attr("y",744).attr("text-anchor","middle").attr("font-size",18.7).attr("fill","#000").text("PC1");
svg.append("text").attr("transform","translate(32,371) rotate(-90)").attr("text-anchor","middle").attr("font-size",18.7).attr("fill","#000").text("PC2");

// legend
svg.append("text").attr("x",788).attr("y",283).attr("font-size",19.3).attr("fill","#000").text("Super population");
const lg = svg.append("g").selectAll("g").data(categories).join("g").attr("transform",(d,i)=>`translate(0,${310+i*30.3})`);
lg.append("circle").attr("cx",803.5).attr("cy",0).attr("r",5).attr("fill",d=>colour(d)).attr("fill-opacity",0.6);
lg.append("text").attr("x",828).attr("y",5.5).attr("font-size",15.5).attr("fill","#000").text(d=>d);
</script></body></html>
